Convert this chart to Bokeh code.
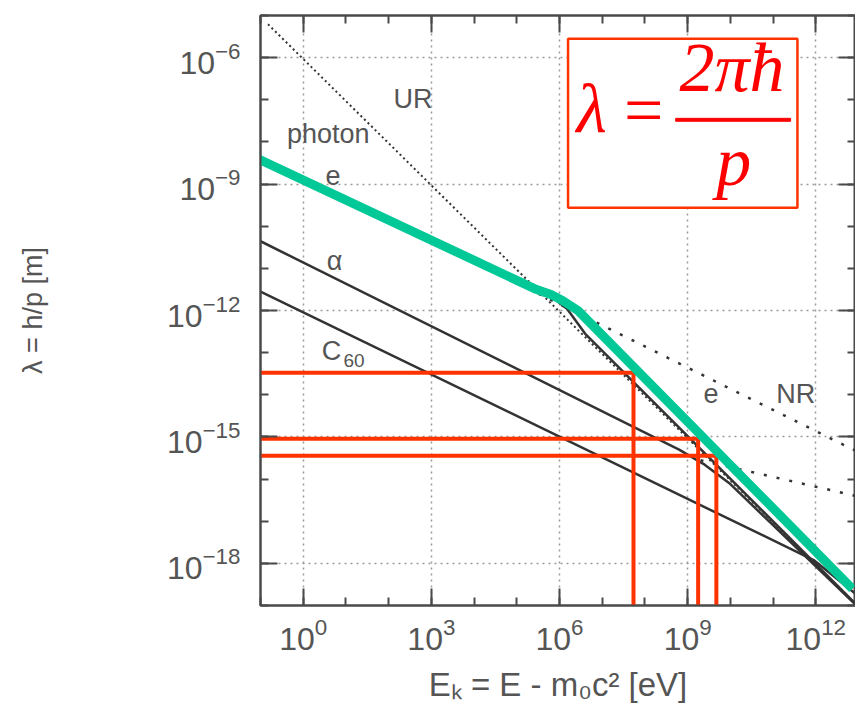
from bokeh.plotting import figure
from bokeh.models import LogAxis, FixedTicker, BoxAnnotation, Label, CustomJSTickFormatter
from bokeh.core.properties import value
from bokeh.embed import file_html
from bokeh.resources import INLINE

# ---------------- data ----------------
# axis ticks
x_major = [1e0, 1e3, 1e6, 1e9, 1e12]
x_minor = [1e-1, 1e0, 1e1, 1e2, 1e3, 1e4, 1e5, 1e6, 1e7, 1e8, 1e9, 1e10, 1e11, 1e12, 1e13]
y_major = [1e-18, 1e-15, 1e-12, 1e-9, 1e-6]
y_minor = [1e-19, 1e-18, 1e-17, 1e-16, 1e-15, 1e-14, 1e-13, 1e-12, 1e-11, 1e-10,
           1e-9, 1e-8, 1e-7, 1e-6, 1e-5]

# photon (UR) dotted line
photon_E = [0.15, 8.5e12]
photon_lam = [6.2e-6, 1.1e-19]

# electron solid curve
e_E = [0.1, 2.0e5, 7.0e5, 1.5e6, 4.0e6, 8.5e12]
e_lam = [3.6e-9, 3.5e-12, 2.0e-12, 1.1e-12, 2.8e-13, 1.1e-19]

# electron non-relativistic extension (dotted)
eNR_E = [3.2e5, 8.5e12]
eNR_lam = [2.5e-12, 4.7e-16]

# alpha solid curve
a_E = [0.1, 6.3e8, 2.5e9, 1.0e10, 8.5e12]
a_lam = [4.4e-11, 5.0e-16, 2.2e-16, 7.6e-17, 1.05e-19]

# alpha non-relativistic extension (dotted)
aNR_E = [2.0e9, 8.5e12]
aNR_lam = [2.8e-16, 4.0e-17]

# C60 solid curve
c_E = [0.1, 8.9e11, 8.5e12]
c_lam = [2.8e-12, 1.2e-18, 1.9e-19]

# green highlighted electron curve
g_E = [0.062, 2.6e5, 6.3e5, 1.2e6, 2.7e6, 7.2e12]
g_lam = [4.7e-9, 3.3e-12, 2.4e-12, 1.7e-12, 1.0e-12, 2.5e-19]

# red read-off lines (energy, wavelength)
red_E = [5.4e7, 1.76e9, 4.7e9]
red_lam = [3.35e-14, 9.1e-16, 3.6e-16]

# curve labels
lab_text = ["UR", "photon", "e", "\u03b1", "C", "e", "NR"]
lab_E = [372, 3.84, 5.0, 5.4, 4.6, 3.5e9, 3.4e11]
lab_lam = [1.07e-7, 1.55e-8, 1.6e-9, 1.5e-11, 1.1e-13, 1.07e-14, 1.07e-14]
sub_text = ["60"]
sub_E = [15.5]
sub_lam = [6.6e-14]

X_MIN, X_MAX = 1e-1, 8.5e12
Y_MIN, Y_MAX = 1e-19, 1e-5

TXT = "#555555"
LINE = "#333333"
AX = "#4a4a4a"
FONT = "Liberation Sans"

p = figure(width=855, height=714, x_axis_type="log", y_axis_type="log",
           x_range=(X_MIN, X_MAX), y_range=(Y_MIN, Y_MAX),
           output_backend="svg", toolbar_location=None,
           min_border_left=260, min_border_right=0, min_border_top=15, min_border_bottom=109,
           background_fill_color="white", border_fill_color="white")
p.outline_line_color = AX
p.outline_line_width = 2

xt = FixedTicker(ticks=x_major, minor_ticks=x_minor)
yt = FixedTicker(ticks=y_major, minor_ticks=y_minor)


def style_axis(ax, labels=True):
    ax.axis_line_color = AX
    ax.axis_line_width = 2
    ax.major_tick_in = 17
    ax.major_tick_out = 0
    ax.minor_tick_in = 8
    ax.minor_tick_out = 0
    ax.major_tick_line_color = AX
    ax.major_tick_line_width = 2
    ax.minor_tick_line_color = AX
    ax.minor_tick_line_width = 2
    if labels:
        ax.major_label_text_font = FONT
        ax.major_label_text_font_size = "32px"
        ax.major_label_text_color = TXT
    else:
        ax.formatter = CustomJSTickFormatter(code="return ''")
        ax.major_label_standoff = 0


xa = p.xaxis[0]
xa.ticker = xt
style_axis(xa)
xa.major_label_standoff = 12
xa.axis_label = "E\u2096 = E - m\u2080c\u00b2 [eV]"
xa.axis_label_text_font = FONT
xa.axis_label_text_font_size = "33px"
xa.axis_label_text_font_style = "normal"
xa.axis_label_text_color = TXT
xa.axis_label_standoff = 13

ya = p.yaxis[0]
ya.ticker = yt
style_axis(ya)
ya.major_label_standoff = 20
ya.axis_label = "\u03bb = h/p [m]"
ya.axis_label_text_font = FONT
ya.axis_label_text_font_size = "27px"
ya.axis_label_text_font_style = "normal"
ya.axis_label_text_color = TXT
ya.axis_label_standoff = 116

top = LogAxis(ticker=xt)
style_axis(top, labels=False)
p.add_layout(top, "above")
right = LogAxis(ticker=yt)
style_axis(right, labels=False)
p.add_layout(right, "right")

for g in (p.xgrid[0], p.ygrid[0]):
    g.grid_line_color = "#9a9a9a"
    g.grid_line_dash = "2 4"
    g.grid_line_width = 1.5
    g.minor_grid_line_color = None
p.xgrid[0].ticker = xt
p.ygrid[0].ticker = yt

# dotted extensions
p.line(photon_E, photon_lam, line_color=LINE, line_width=2, line_dash="2 3")
p.line(eNR_E, eNR_lam, line_color=LINE, line_width=2.5, line_dash="3 10")
p.line(aNR_E, aNR_lam, line_color=LINE, line_width=2.5, line_dash="3 10")

# solid curves
p.line(e_E, e_lam, line_color=LINE, line_width=2.5)
p.line(a_E, a_lam, line_color=LINE, line_width=2.5)
p.line(c_E, c_lam, line_color=LINE, line_width=2.5)

# red read-off lines
red_xs = [[X_MIN / 2, e, e] for e in red_E]
red_ys = [[l, l, Y_MIN / 2] for l in red_lam]
p.multi_line(red_xs, red_ys, line_color="#ff3300", line_width=4, line_join="miter")

# green highlight
p.line(g_E, g_lam, line_color="#00c896", line_width=9, line_join="round")

# labels
p.text(lab_E, lab_lam, text=lab_text, text_font=value(FONT), text_font_size="27px",
       text_color=TXT, text_align="center", text_baseline="middle")
p.text(sub_E, sub_lam, text=sub_text, text_font=value(FONT), text_font_size="19px",
       text_color=TXT, text_align="center", text_baseline="middle")

# formula box
p.add_layout(BoxAnnotation(left=10**6.2, right=10**11.57, top=10**-5.55, bottom=10**-9.56,
                           fill_color="white", fill_alpha=1.0,
                           line_color="#ff3300", line_alpha=1.0, line_width=2.5))
for txt, x, y in [("\u03bb", 10**6.75, 10**-7.20), ("=", 10**7.96, 10**-7.25),
                  ("2\u03c0\u0127", 10**10.04, 10**-6.24), ("p", 10**10.08, 10**-8.46)]:
    p.add_layout(Label(x=x, y=y, text=txt, text_font="Liberation Serif",
                       text_font_style="italic", text_font_size="70px",
                       text_color="#ff0000", text_align="center",
                       text_baseline="alphabetic"))
p.add_layout(BoxAnnotation(left=10**8.72, right=10**11.41, top=10**-7.44, bottom=10**-7.51,
                           fill_color="#ff0000", fill_alpha=1.0,
                           line_color="#ff0000", line_alpha=1.0, line_width=1))

open("out.html", "w").write(file_html(p, INLINE))
